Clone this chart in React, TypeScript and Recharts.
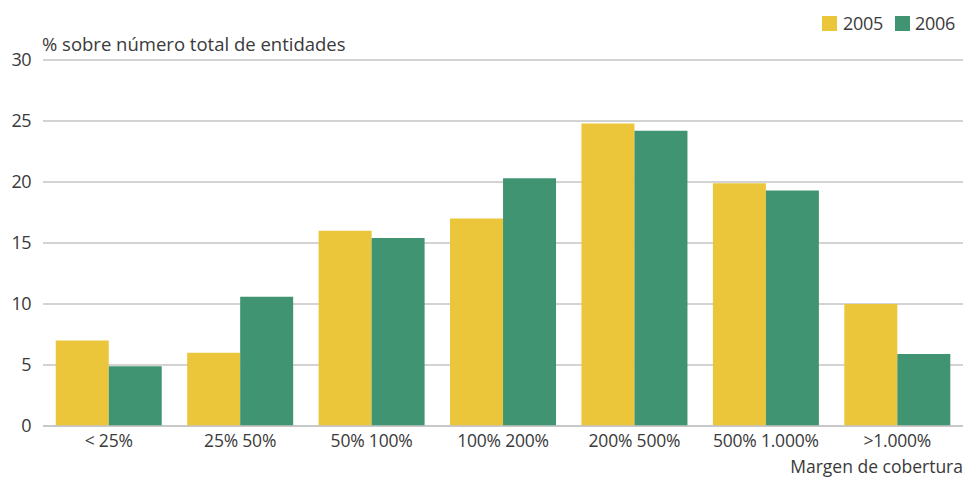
import React from 'react';
import { BarChart, Bar, XAxis, YAxis, CartesianGrid } from 'recharts';

const categories = ['< 25%', '25% 50%', '50% 100%', '100% 200%', '200% 500%', '500% 1.000%', '>1.000%'];
const values2005 = [7.0, 6.0, 16.0, 17.0, 24.8, 19.9, 10.0];
const values2006 = [4.9, 10.6, 15.4, 20.3, 24.2, 19.3, 5.9];
const yTicks = [0, 5, 10, 15, 20, 25, 30];

const data = categories.map((c, i) => ({ name: c, y2005: values2005[i], y2006: values2006[i] }));

const YELLOW = '#EBC63B';
const GREEN = '#419472';
const TEXT = '#3a3a3a';
const FONT = '"Open Sans", "Noto Sans", sans-serif';

export default function App() {
  return (
    <div style={{ position: 'absolute', left: 0, top: 0, width: 966, height: 477, background: '#fff', fontFamily: FONT }}>
      <BarChart
        width={966}
        height={477}
        data={data}
        margin={{ top: 60, right: 3, bottom: 21, left: 0 }}
        barCategoryGap="9.7%"
        barGap={0}
      >
        <CartesianGrid horizontal vertical={false} stroke="#c4c4c4" strokeWidth={1.5} />
        <XAxis
          dataKey="name"
          axisLine={{ stroke: '#c4c4c4', strokeWidth: 1.5 }}
          tickLine={false}
          tick={{ fill: TEXT, fontSize: 17.5, fontFamily: FONT, letterSpacing: -0.2 }}
          height={30}
          tickMargin={3}
        />
        <YAxis
          domain={[0, 30]}
          ticks={yTicks}
          width={43}
          axisLine={false}
          tickLine={false}
          tick={{ fill: TEXT, fontSize: 18, fontFamily: FONT, letterSpacing: -0.5 }}
          tickMargin={6}
        />
        <Bar dataKey="y2005" fill={YELLOW} isAnimationActive={false} />
        <Bar dataKey="y2006" fill={GREEN} isAnimationActive={false} />
      </BarChart>
      <div style={{ position: 'absolute', left: 42, top: 31, fontSize: 18.5, letterSpacing: 0, color: TEXT, whiteSpace: 'nowrap' }}>
        % sobre número total de entidades
      </div>
      <div style={{ position: 'absolute', right: 3, top: 454, fontSize: 17.5, letterSpacing: 0, color: TEXT, whiteSpace: 'nowrap' }}>
        Margen de cobertura
      </div>
      <div style={{ position: 'absolute', left: 822, top: 11, display: 'flex', alignItems: 'center', fontSize: 18, letterSpacing: -0.3, color: TEXT }}>
        <span style={{ display: 'inline-block', width: 15, height: 15, background: YELLOW, marginRight: 6 }} />
        <span style={{ marginRight: 12 }}>2005</span>
        <span style={{ display: 'inline-block', width: 15, height: 15, background: GREEN, marginRight: 5 }} />
        <span>2006</span>
      </div>
    </div>
  );
}
